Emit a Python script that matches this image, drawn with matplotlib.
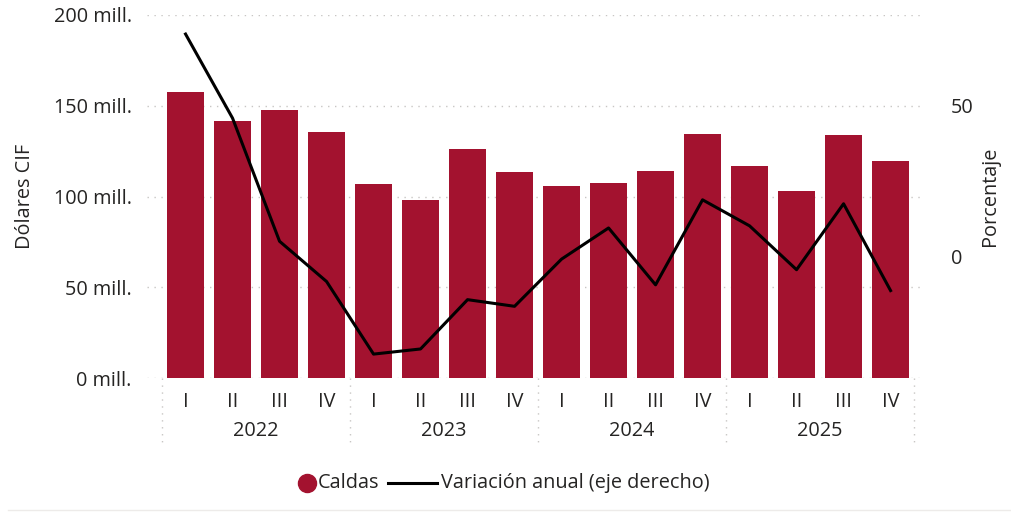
import matplotlib.pyplot as plt
import matplotlib.lines as mlines

plt.rcParams['font.family'] = ['Open Sans', 'DejaVu Sans']

trimestres = ['I', 'II', 'III', 'IV'] * 4
anios = ['2022', '2023', '2024', '2025']
caldas = [157.7, 141.7, 147.4, 135.8,
          106.8, 98.0, 126.2, 113.4,
          105.7, 107.5, 113.9, 134.7,
          116.7, 102.8, 133.8, 119.5]
variacion = [73.7, 45.9, 5.2, -8.1,
             -32.1, -30.4, -14.1, -16.3,
             -0.7, 9.6, -9.2, 18.9,
             10.3, -4.2, 17.6, -11.1]

ROJO = '#A3122F'
TEXTO = '#252423'
GRIS = '#C8C6C4'
FS = 14.3

fig = plt.figure(figsize=(10.11, 5.12), dpi=100)
ax1 = fig.add_axes([147 / 1011, 134 / 512, 776 / 1011, 363 / 512])
ax2 = ax1.twinx()

x = list(range(len(caldas)))
ax1.bar(x, caldas, width=0.79, color=ROJO, zorder=2)
ax1.set_ylim(0, 200)
ax1.set_xlim(-0.82, 15.69)
ax1.set_yticks([0, 50, 100, 150, 200])
ax1.set_yticklabels([f'{v} mill.' for v in [0, 50, 100, 150, 200]])
ax1.grid(axis='y', color=GRIS, linestyle=(0, (1, 4)), linewidth=1, zorder=0)
ax1.set_axisbelow(True)
ax1.set_xticks(x)
ax1.set_xticklabels(trimestres)
ax1.tick_params(axis='x', length=0, pad=10, labelsize=FS, labelcolor=TEXTO)
ax1.tick_params(axis='y', length=0, pad=11, labelsize=FS, labelcolor=TEXTO)
ax1.set_ylabel('Dólares CIF', fontsize=FS, color=TEXTO)
ax1.yaxis.set_label_coords(-0.144, 0.5)

ax2.plot(x, variacion, color='black', linewidth=2.2, zorder=3)
ax2.set_ylim(-40, 80)
ax2.set_yticks([0, 50])
ax2.tick_params(axis='y', length=0, pad=20, labelsize=FS, labelcolor=TEXTO)
ax2.set_ylabel('Porcentaje', fontsize=FS, color=TEXTO)
ax2.yaxis.set_label_coords(1.074, 0.5)

for a in (ax1, ax2):
    for s in a.spines.values():
        s.set_visible(False)

# etiquetas de años y separadores
tr = ax1.get_xaxis_transform()
for i, anio in enumerate(anios):
    ax1.text(i * 4 + 1.5, -0.145, anio, transform=tr, ha='center', va='center',
             fontsize=FS, color=TEXTO)
for i in range(5):
    ax1.plot([i * 4 - 0.5, i * 4 - 0.5], [0, -0.19], transform=tr, clip_on=False,
             color=GRIS, linestyle=(0, (1, 4)), linewidth=1)

# leyenda manual
ly = 1 - 483 / 512
fig.add_artist(mlines.Line2D([307 / 1011], [ly], marker='o', markersize=13,
                             color=ROJO, linestyle='none'))
fig.text(318 / 1011, ly, 'Caldas', fontsize=FS, color=TEXTO, va='center')
fig.add_artist(mlines.Line2D([388 / 1011, 437 / 1011], [ly, ly], color='black', linewidth=2.2))
fig.text(441 / 1011, ly, 'Variación anual (eje derecho)', fontsize=FS, color=TEXTO, va='center')

fig.add_artist(mlines.Line2D([8 / 1011, 1], [2 / 512, 2 / 512], color='#EDEBE9', linewidth=1))

fig.savefig('out.png', dpi=100)
